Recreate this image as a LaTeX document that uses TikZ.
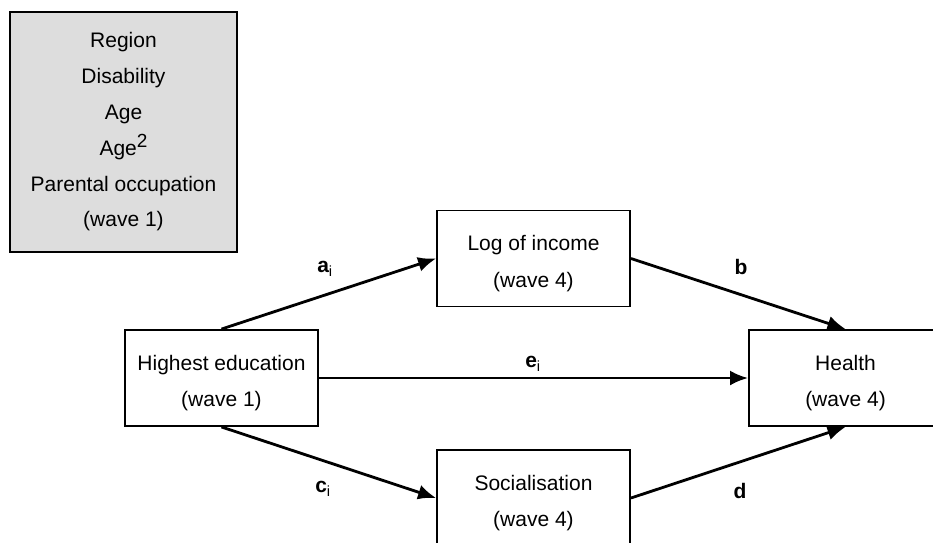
\documentclass[tikz,border=0pt]{standalone}
\usepackage{fontspec}
\setmainfont{Liberation Sans}
\usepackage{xcolor}
\usepackage{tikz}
\usetikzlibrary{arrows.meta}
\definecolor{ctrlgray}{HTML}{DDDDDD}
\newcommand{\boxstrut}{\rule{0pt}{25pt}}
\tikzset{
  every node/.style={font=\fontsize{21}{36.5}\selectfont, align=center},
  varbox/.style={draw, line width=1.9pt, minimum width=193pt, minimum height=96pt, inner sep=0pt},
  ctrlbox/.style={draw, line width=1.9pt, fill=ctrlgray, minimum width=227pt, minimum height=240pt,
    inner sep=0pt, font=\fontsize{21}{35.8}\selectfont},
  effect/.style={line width=2.8pt, -{Latex[length=18pt,width=15pt]}},
  coef/.style={font=\fontsize{21}{24}\selectfont\bfseries},
}

\begin{document}
\begin{tikzpicture}[x=1pt,y=-1pt]
  \useasboundingbox (0,0) rectangle (933,542);
  \clip (0,0) rectangle (933,542);
  \node[ctrlbox] (controls) at (123.5,132) {Region\\Disability\\Age\\Age\raisebox{8pt}{\fontsize{19}{19}\selectfont 2}\\Parental occupation\\(wave 1)};
  \node[varbox] (educ) at (221.5,378) {\boxstrut Highest education\\(wave 1)};
  \node[varbox] (income) at (533.5,258.5) {\boxstrut Log of income\\(wave 4)};
  \node[varbox] (social) at (533.5,498) {\boxstrut Socialisation\\(wave 4)};
  \node[varbox] (health) at (845.5,378) {\boxstrut Health\\(wave 4)};
  \draw[effect] (educ.north) -- (income.west);
  \draw[effect] (income.east) -- (health.north);
  \draw[effect] (educ.east) -- (health.west);
  \draw[effect] (educ.south) -- (social.west);
  \draw[effect] (social.east) -- (health.south);
  \node[coef] (ai) at (325,269) {a\textsubscript{\mdseries i}};
  \node[coef] (b) at (741,267) {b};
  \node[coef] (ei) at (533,364) {e\textsubscript{\mdseries i}};
  \node[coef] (ci) at (323,489) {c\textsubscript{\mdseries i}};
  \node[coef] (d) at (740,491) {d};
\end{tikzpicture}
\end{document}
